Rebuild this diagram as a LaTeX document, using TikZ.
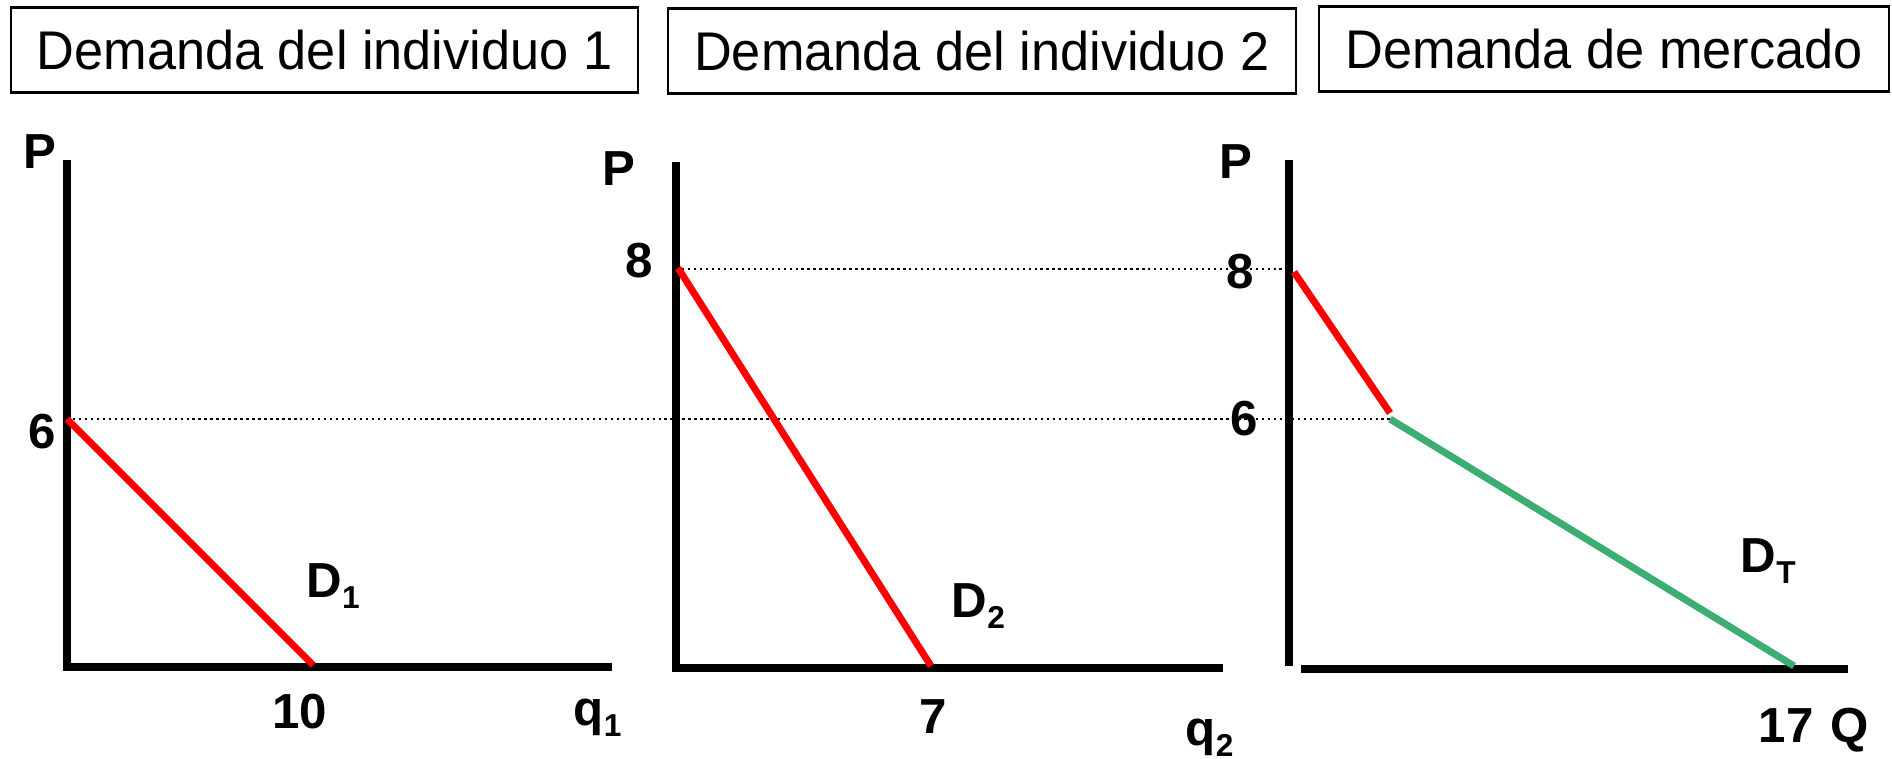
\documentclass[tikz,border=0pt]{standalone}
\usepackage{fontspec}
\setmainfont{Liberation Sans}
\definecolor{verdeDT}{RGB}{60,174,113}
\newcommand{\subind}[1]{\raisebox{-3.2pt}{\fontsize{9}{9}\selectfont #1}}
\newcommand{\estrecho}[1]{\scalebox{0.96}[1]{#1}}
\begin{document}
\begin{tikzpicture}[
	titulo/.style={draw,line width=0.6pt,minimum height=0.85cm,inner xsep=0.26cm,font=\fontsize{15.5}{18}\selectfont},
	etiq/.style={inner sep=0pt,anchor=base,font=\fontsize{14}{16}\selectfont\bfseries},
	ejes/.style={line width=2.4pt},
	curva/.style={line width=2pt,red},
	guia/.style={densely dotted,line width=0.7pt}]
	\useasboundingbox (0,0) rectangle (18.92,7.58);
	%标题
	\node[titulo] (t1) at (3.245,7.08) {\estrecho{Demanda del individuo 1}};
	\node[titulo] (t2) at (9.82,7.07) {\estrecho{Demanda del individuo 2}};
	\node[titulo] (t3) at (16.04,7.09) {\estrecho{Demanda de mercado}};
	%坐标轴
	\coordinate (a1) at (0.67,5.98);
	\coordinate (o1) at (0.67,0.91);
	\coordinate (b1) at (6.12,0.91);
	\coordinate (a2) at (6.76,5.96);
	\coordinate (o2) at (6.76,0.90);
	\coordinate (b2) at (12.23,0.90);
	\coordinate (a3) at (12.89,5.98);
	\coordinate (o3) at (12.89,0.92);
	\coordinate (c3) at (13.01,0.89);
	\coordinate (b3) at (18.48,0.89);
	\draw[ejes] (a1) -- (o1) -- (b1);
	\draw[ejes] (a2) -- (o2) -- (b2);
	\draw[ejes] (a3) -- (o3);
	\draw[ejes] (c3) -- (b3);
	%虚线
	\coordinate (s1) at (0.67,3.39);
	\coordinate (k3) at (13.90,3.39);
	\coordinate (s2) at (6.76,4.89);
	\coordinate (s3) at (12.89,4.89);
	\draw[guia] (s1) -- (k3);
	\draw[guia] (s2) -- (s3);
	%需求线
	\coordinate (d1a) at (0.67,3.39);
	\coordinate (d1b) at (3.13,0.93);
	\coordinate (d2a) at (6.78,4.90);
	\coordinate (d2b) at (9.31,0.92);
	\coordinate (d3a) at (12.94,4.86);
	\coordinate (d3b) at (13.90,3.45);
	\coordinate (d3c) at (17.94,0.92);
	\draw[curva] (d1a) -- (d1b);
	\draw[curva] (d2a) -- (d2b);
	\draw[curva] (d3a) -- (d3b);
	\draw[curva,verdeDT] (k3) -- (d3c);
	%标签
	\node[etiq] (p1) at (0.40,5.90) {P};
	\node[etiq] (p2) at (6.19,5.73) {P};
	\node[etiq] (p3) at (12.36,5.80) {P};
	\node[etiq] (seis1) at (0.42,3.10) {6};
	\node[etiq] (ocho2) at (6.39,4.81) {8};
	\node[etiq] (ocho3) at (12.40,4.70) {8};
	\node[etiq] (seis3) at (12.44,3.23) {6};
	\node[etiq] (diez) at (3.00,0.30) {10};
	\node[etiq] (siete) at (9.33,0.25) {7};
	\node[etiq] (diecisiete) at (17.86,0.16) {17};
	\node[etiq] (qq) at (18.50,0.16) {Q};
	\node[etiq,anchor=base west] (dd1) at (3.06,1.61) {D\subind{1}};
	\node[etiq,anchor=base west] (dd2) at (9.51,1.41) {D\subind{2}};
	\node[etiq,anchor=base west] (ddT) at (17.40,1.86) {D\subind{T}};
	\node[etiq,anchor=base west] (q1) at (5.73,0.33) {q\subind{1}};
	\node[etiq,anchor=base west] (q2) at (11.85,0.13) {q\subind{2}};
\end{tikzpicture}
\end{document}
